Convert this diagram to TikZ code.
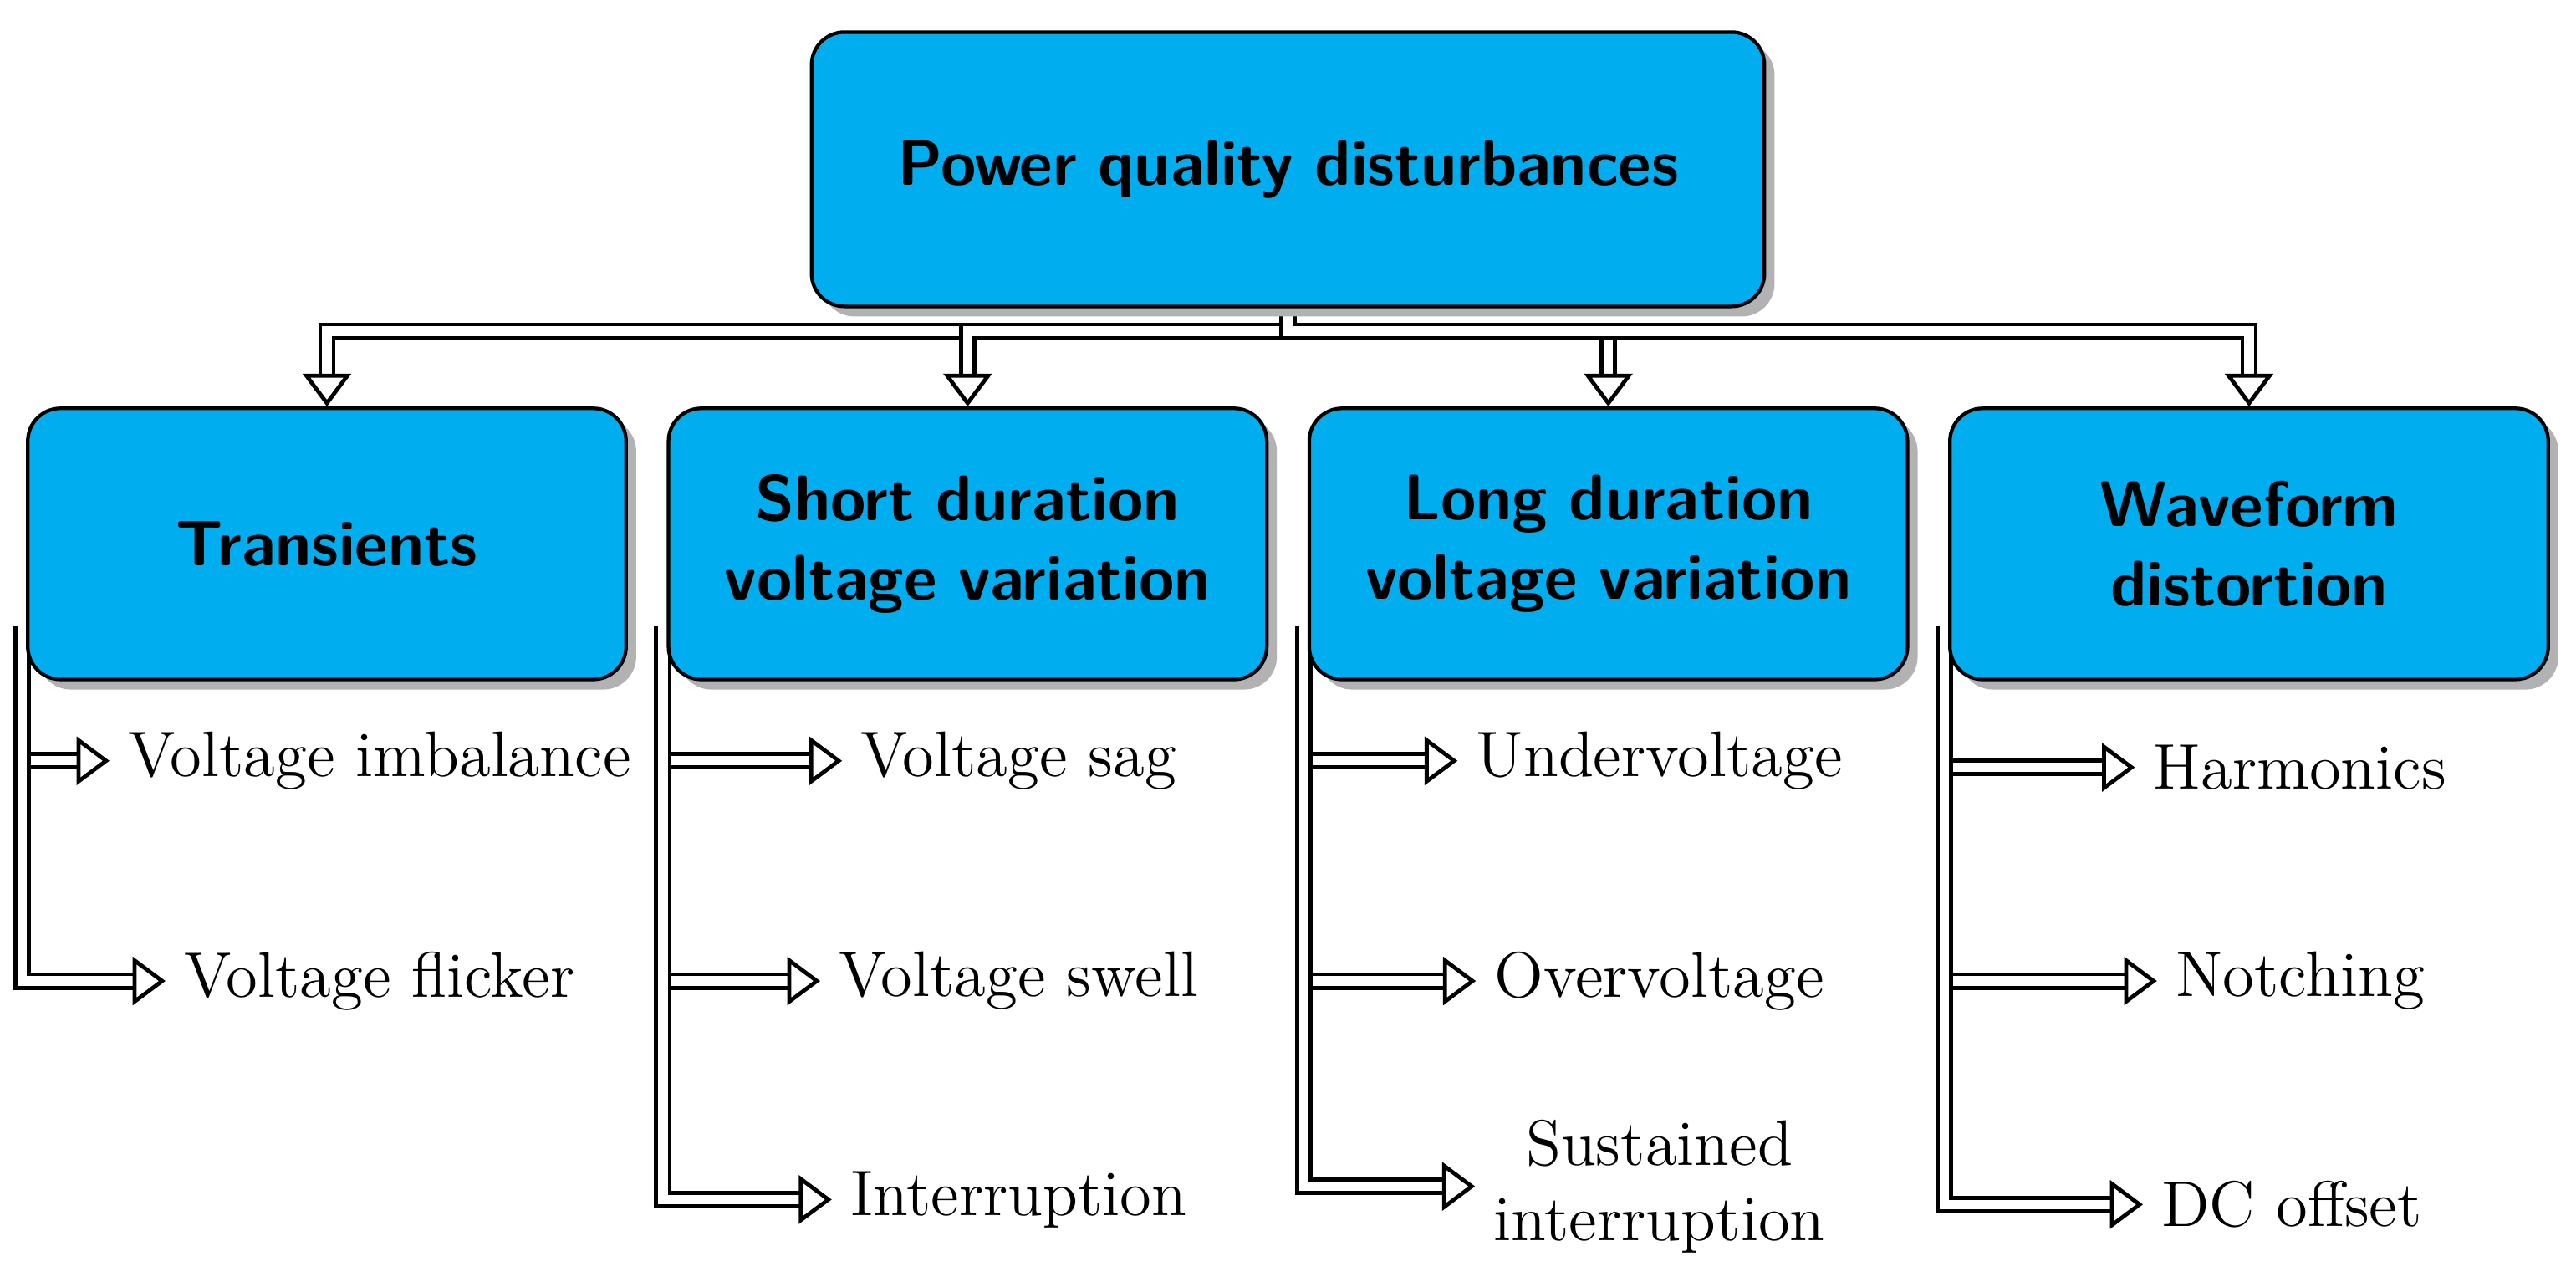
\documentclass[tikz,border=0pt]{standalone}
\usepackage{tikz}
\usetikzlibrary{shapes, arrows.meta, positioning, shadows, backgrounds}
\definecolor{boxcyan}{RGB}{0,174,239}

\begin{document}
\begin{tikzpicture}[
        x=0.013cm, y=-0.013cm,
        box/.style={
            rectangle, rounded corners=0.26cm, draw=black, fill=boxcyan, thick,
            text width=4.5cm, align=center, font=\sffamily\bfseries\fontsize{14.5}{18}\selectfont,
            minimum width=4.654cm, minimum height=2.145cm,
            drop shadow={shadow xshift=0.08cm, shadow yshift=-0.08cm, fill=black!30, opacity=1}
        },
        item/.style={font=\fontsize{14.5}{17}\selectfont, align=center, inner sep=4pt},
        arrow/.style={draw=black, line width=0.9pt, double=white, double distance=0.075cm,
            -{Triangle[open, length=0.26cm, width=0.38cm]}}
    ]
        \useasboundingbox (0,0) rectangle (1568,783);

        % Top and category boxes
        \node[box, text width=7.2cm, minimum width=7.54cm, minimum height=2.17cm] (pqd) at (784,103) {Power quality disturbances};
        \node[box] (tra) at (199,331) {Transients};
        \node[box] (sdv) at (589,331) {Short duration\\voltage variation};
        \node[box] (ldv) at (979,331) {Long duration\\voltage variation};
        \node[box] (wfd) at (1369,331) {Waveform\\distortion};

        % Items
        \node[item] (imb) at (231,463) {Voltage imbalance};
        \node[item] (fli) at (231,597) {Voltage flicker};
        \node[item] (sag) at (620,463) {Voltage sag};
        \node[item] (swe) at (620,597) {Voltage swell};
        \node[item] (int) at (620,730) {Interruption};
        \node[item] (und) at (1010,463) {Undervoltage};
        \node[item] (ove) at (1010,597) {Overvoltage};
        \node[item] (sus) at (1010,722) {Sustained\\interruption};
        \node[item] (har) at (1400,467) {Harmonics};
        \node[item] (not) at (1400,597) {Notching};
        \node[item] (dco) at (1395,733) {DC offset};

        % Connectors
        \begin{pgfonlayer}{background}
            \foreach \c in {tra, sdv, ldv, wfd}
                \draw[arrow] (pqd.south) -- ++(0,14) -| (\c.north);
            \coordinate (tra0) at ([xshift=-0.03cm, yshift=0.44cm]tra.south west);
            \coordinate (sdv0) at ([xshift=-0.03cm, yshift=0.44cm]sdv.south west);
            \coordinate (ldv0) at ([xshift=-0.03cm, yshift=0.44cm]ldv.south west);
            \coordinate (wfd0) at ([xshift=-0.03cm, yshift=0.44cm]wfd.south west);
            \foreach \c/\i in {tra0/imb, tra0/fli, sdv0/sag, sdv0/swe, sdv0/int,
                               ldv0/und, ldv0/ove, ldv0/sus, wfd0/har, wfd0/not, wfd0/dco}
                \draw[arrow] (\c) |- (\i.west);
        \end{pgfonlayer}

    \end{tikzpicture}
\end{document}
